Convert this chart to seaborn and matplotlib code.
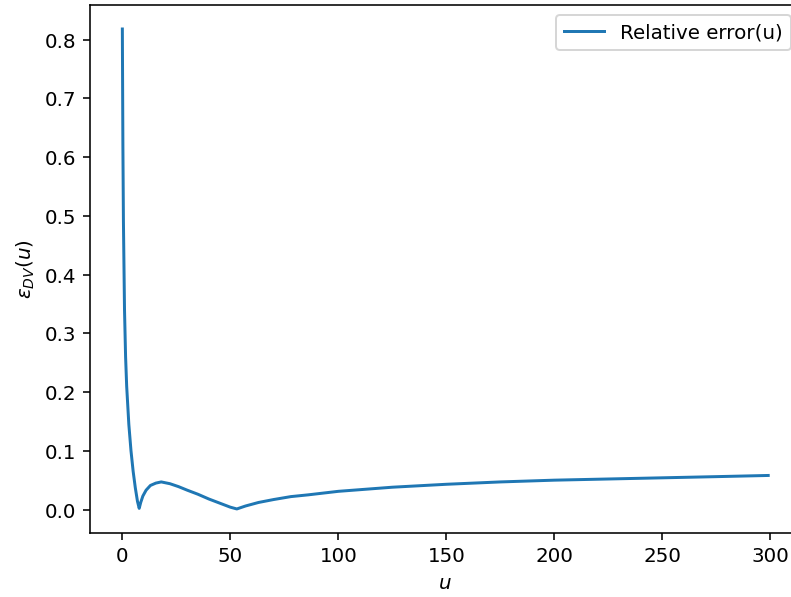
import matplotlib
matplotlib.use("Agg")
import matplotlib.pyplot as plt
import pandas as pd
import seaborn as sns

# values
u_values = [0, 0.25, 0.5, 1.0, 1.5, 2.0, 3.0, 4.0, 5.0, 6.0, 7.0, 7.8,
            8.5, 9.5, 11, 13, 15.5, 18, 22, 26, 30, 35, 40, 45, 50, 53,
            57, 63, 70, 78, 86, 100, 125, 150, 175, 200, 225, 250, 275, 299]
rel_error = [0.818, 0.62, 0.49, 0.34, 0.26, 0.21, 0.145, 0.10, 0.065, 0.037, 0.014, 0.002,
             0.012, 0.023, 0.033, 0.041, 0.045, 0.047, 0.044, 0.039, 0.033, 0.026, 0.018, 0.011, 0.004, 0.001,
             0.006, 0.012, 0.017, 0.022, 0.025, 0.031, 0.038, 0.043, 0.047, 0.050, 0.052, 0.054, 0.056, 0.058]

df = pd.DataFrame({"u": u_values, "err": rel_error})

dpi = 143
W, H = 791, 597
# half a pixel extra so the canvas does not round down to 790 px
fig = plt.figure(figsize=((W + 0.5) / dpi, (H + 0.5) / dpi), dpi=dpi)
# reference is cropped on the right: axes run past the picture edge, no right spine
ax = fig.add_axes([90 / W, 1 - 533 / H, 710 / W, 527.5 / H])

sns.lineplot(data=df, x="u", y="err", ax=ax, color="#1f77b4", linewidth=1.5,
             label="Relative error(u)")

ax.spines["right"].set_visible(False)
ax.set_xlabel("$u$")
ax.set_ylabel(r"$\varepsilon_{DV}(u)$")
ax.legend(loc="upper right")

fig.savefig("out.png", dpi=dpi)
